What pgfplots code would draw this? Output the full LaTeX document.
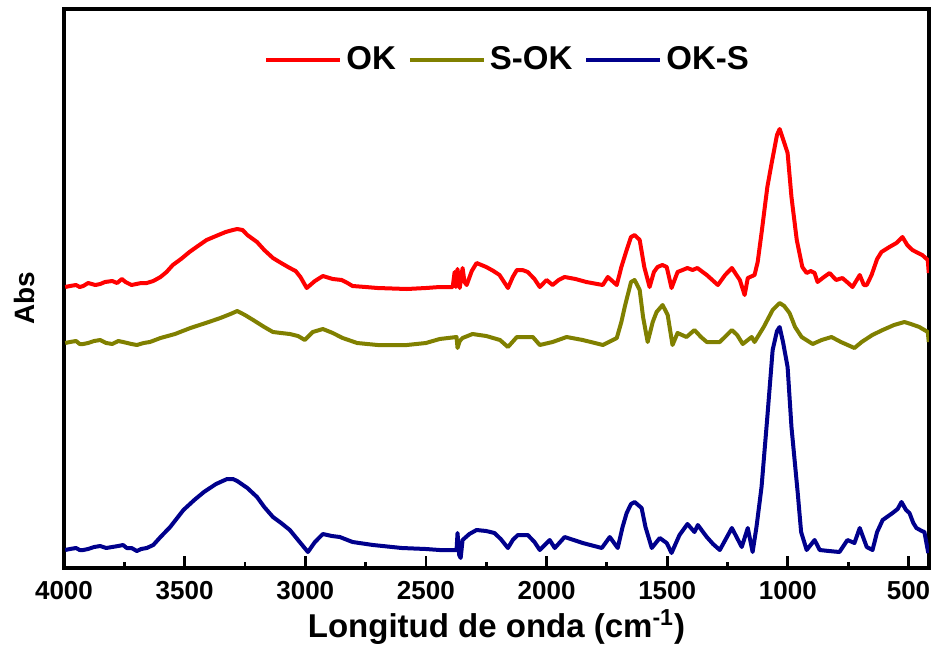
\documentclass[border=0pt]{standalone}
\usepackage{pgfplots}
\pgfplotsset{compat=1.18}
\usepackage{fontspec}
\setmainfont{Liberation Sans}
\usetikzlibrary{calc}
\definecolor{okred}{RGB}{255,0,0}
\definecolor{okolive}{RGB}{128,128,0}
\definecolor{oknavy}{RGB}{0,0,140}
\begin{document}
\begin{tikzpicture}
\begin{axis}[
  scale only axis,
  width=432.5pt, height=279.5pt,
  x dir=reverse,
  xmin=415, xmax=4000,
  ymin=-1, ymax=558,
  axis line style={line width=1.6pt},
  xtick={500,1000,1500,2000,2500,3000,3500,4000},
  minor xtick={750,1250,1750,2250,2750,3250,3750},
  xtick pos=bottom,
  tick align=inside,
  major tick length=6pt,
  minor tick length=3pt,
  every tick/.style={line width=1.4pt, black},
  ytick=\empty,
  /pgf/number format/assume math mode=true,
  /pgf/number format/set thousands separator={},
  xticklabel style={font=\bfseries\fontsize{13}{15}\selectfont, anchor=center, yshift=-11.5pt},
  xlabel={Longitud de onda (cm\textsuperscript{-1})},
  ylabel={Abs},
  x label style={font=\bfseries\fontsize{16.5}{19}\selectfont, at={(axis description cs:0.5,-0.106)}, anchor=center},
  y label style={font=\bfseries\fontsize{14}{16}\selectfont, at={(axis description cs:-0.046,0.483)}, anchor=center},
  legend columns=3,
  legend style={draw=none, fill=none, at={(axis description cs:0.514,0.909)}, anchor=center,
    font=\bfseries\fontsize{16.5}{18}\selectfont,
    /tikz/every even column/.append style={column sep=4pt}},
  legend image code/.code={\draw[#1, line width=2pt] (0pt,0pt) -- (37pt,0pt);},
  every axis plot/.append style={line width=2pt, line join=round},
]
\coordinate (sw) at (rel axis cs:0,0);
\coordinate (ne) at (rel axis cs:1,1);
\addplot[okred] coordinates {
(3995,280) (3975,281) (3950,282) (3935,280) (3920,281) (3900,284) (3885,283) (3870,282) (3850,283) (3830,285) (3800,286) (3780,284) (3760,288) (3745,285) (3720,282) (3700,283) (3680,284) (3657,284)
(3630,286) (3600,290) (3575,295) (3549,302) (3515,308) (3480,315) (3445,321) (3409,327) (3370,331) (3330,335) (3300,337) (3282,338) (3260,337) (3240,332) (3200,325) (3170,317) (3134,309) (3100,304) (3064,299)
(3040,296) (3020,290) (2994,279) (2960,286) (2927,291) (2900,289) (2886,288) (2849,287) (2825,284) (2804,281) (2750,280) (2700,279) (2579,278) (2500,279) (2443,280)
(2389,280) (2381,295) (2376,280) (2369,298) (2360,279) (2348,299) (2340,285) (2331,282) (2310,296) (2290,304) (2250,300)
(2220,296) (2195,292) (2160,279) (2140,290) (2123,297) (2100,297) (2078,295) (2050,288) (2028,280) (2000,287) (1975,282) (1950,287) (1925,290) (1880,288) (1835,285) (1767,282)
(1746,290) (1709,282) (1690,300) (1668,317) (1650,330) (1635,332) (1614,327) (1595,300) (1573,280) (1555,295) (1540,300) (1520,302) (1502,300) (1482,279) (1457,295)
(1416,299) (1395,297) (1375,299) (1336,292) (1290,282) (1260,292) (1232,299) (1199,287) (1179,272) (1166,289) (1138,292) (1125,305) (1109,334)
(1085,380) (1067,404) (1045,432) (1034,438) (1020,428) (1001,414) (985,370) (963,327) (940,300) (922,294) (905,296) (889,294) (877,285) (850,290) (827,294) (800,287) (774,289) (750,284) (732,280)
(702,292) (685,282) (673,282) (653,292) (630,308) (612,315) (579,320) (550,324) (525,330) (505,322) (484,317) (460,314) (443,312) (420,307) (416,294)
};
\addlegendentry{OK}
\addplot[okolive] coordinates {
(3995,224) (3975,225) (3950,226) (3935,223) (3920,223) (3900,224) (3875,226) (3850,227) (3825,224) (3800,223) (3775,226) (3755,225) (3720,223) (3698,222) (3670,224) (3644,225)
(3600,229) (3540,233) (3476,239) (3400,245) (3352,249) (3310,253) (3282,256) (3250,252) (3216,247) (3170,240) (3134,235) (3100,234) (3064,233) (3030,231) (3002,227)
(2969,235) (2927,238) (2886,234) (2845,229) (2785,224) (2700,222) (2579,222) (2500,224) (2443,228) (2373,230) (2369,219)
(2360,226) (2348,229) (2307,233) (2250,231) (2193,227) (2160,220) (2123,230) (2090,230) (2057,230) (2028,222) (1975,225)
(1917,230) (1850,227) (1800,224) (1767,222) (1709,229) (1690,245) (1676,260) (1650,285) (1635,287) (1614,277) (1600,250) (1581,225) (1560,245) (1544,255) (1519,262)
(1498,252) (1478,222) (1457,234) (1420,230) (1387,237) (1360,230) (1336,225) (1282,225) (1232,237) (1210,232) (1187,223) (1150,230)
(1138,225) (1100,240) (1063,257) (1034,264) (1015,261) (993,254) (970,240) (943,230) (897,223) (860,227) (819,230) (780,225) (724,219) (694,225) (650,232) (607,237)
(560,242) (517,245) (490,243) (455,240) (420,235) (416,225)
};
\addlegendentry{S-OK}
\addplot[oknavy] coordinates {
(3995,17) (3975,18) (3950,19) (3935,17) (3920,17) (3900,18) (3875,20) (3850,21) (3825,19) (3800,20) (3775,21) (3755,22) (3740,19) (3720,19) (3698,16) (3680,18) (3657,19) (3630,22) (3600,30)
(3560,40) (3505,57) (3460,67) (3420,75) (3370,83) (3324,88) (3300,88) (3282,86) (3240,79) (3200,70) (3170,60) (3134,50) (3100,44) (3064,37) (3030,27) (2989,15) (2960,25) (2927,33) (2890,31) (2857,30) (2804,25)
(2719,22) (2600,19) (2500,18) (2443,17) (2373,17) (2369,34) (2362,12) (2356,9) (2348,27) (2320,33) (2290,37) (2250,36) (2216,34)
(2190,28) (2160,19) (2140,27) (2119,32) (2078,32) (2050,25) (2028,17) (1987,27) (1966,19) (1925,30) (1850,24) (1771,19) (1738,30) (1705,19)
(1685,40) (1668,54) (1650,63) (1635,65) (1606,59) (1590,40) (1564,19) (1531,29) (1502,24) (1482,14) (1449,32) (1416,43) (1387,35) (1373,42)
(1336,30) (1310,23) (1282,17) (1232,39) (1191,20) (1166,39) (1146,15) (1130,40) (1109,80) (1085,150) (1063,217) (1045,236) (1034,240) (1020,225) (1001,200) (985,140)
(959,74) (945,35) (922,17) (889,27) (868,17) (830,16) (786,15) (753,27) (724,24) (702,39) (673,20) (649,17) (630,35) (607,47) (566,54)
(545,58) (529,65) (510,57) (496,54) (480,44) (467,39) (445,36) (434,35) (418,14)
};
\addlegendentry{OK-S}
\end{axis}
\pgfresetboundingbox
\path ($(sw)+(-32pt,-38.5pt)$) rectangle ($(ne)+(4.5pt,4.5pt)$);
\end{tikzpicture}
\end{document}
